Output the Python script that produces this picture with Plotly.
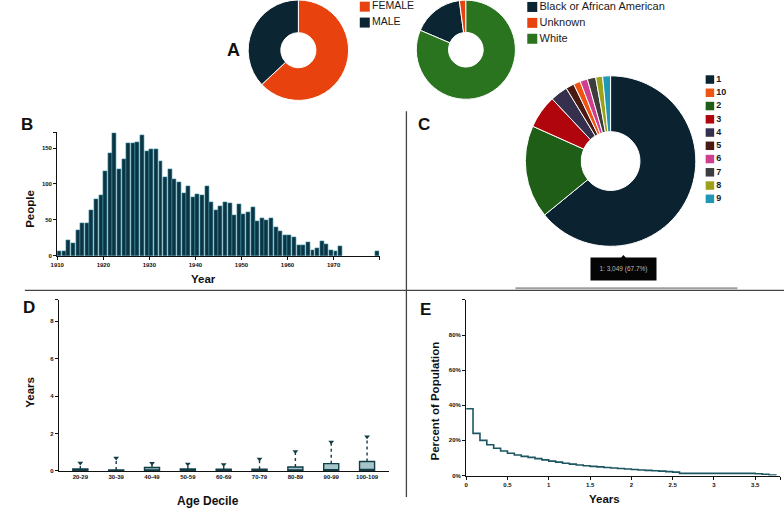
import plotly.graph_objects as go

W, H = 784, 513
FONT = "Liberation Sans, Arial, sans-serif"

# ---------------- DATA ----------------
sex_labels = ["FEMALE", "MALE"]
sex_values = [63.0, 37.0]
sex_colors = ["#e8430f", "#0c2533"]

race_labels = ["Black or African American", "Unknown", "White"]
race_values = [16.5, 2.1, 81.4]
race_colors = ["#0c2533", "#e8430f", "#2a7420"]

birth_years = list(range(1910, 1972)) + [1979]
birth_counts = [6, 6, 21, 17, 35, 45, 46, 63, 79, 85,
                118, 143, 171, 121, 134, 157, 157, 158, 168, 145,
                148, 148, 132, 110, 120, 107, 102, 87, 97, 82,
                86, 85, 97, 75, 64, 69, 74, 73, 56, 72,
                58, 61, 67, 48, 52, 50, 52, 40, 34, 28,
                29, 26, 15, 15, 19, 8, 11, 20, 16, 8,
                6, 14, 6]

# slices listed in clockwise drawing order
visit_labels = ["1", "2", "3", "4", "5", "10", "6", "7", "8", "9"]
visit_counts = [3049, 837, 300, 157, 76, 62, 67, 76, 62, 71]
visit_colors = ["#0b2230", "#1f5e16", "#b0050c", "#35304e", "#4a1912",
                "#ee5414", "#cf3f8e", "#3d3d3d", "#9ba119", "#1f97b5"]
# legend order (as in the reference)
visit_legend = ["1", "10", "2", "3", "4", "5", "6", "7", "8", "9"]

deciles = ["20-29", "30-39", "40-49", "50-59", "60-69",
           "70-79", "80-89", "90-99", "100-109"]
dec_q1 = [0.0] * 9
dec_median = [0.02, 0.01, 0.03, 0.02, 0.02, 0.02, 0.04, 0.06, 0.08]
dec_q3 = [0.10, 0.05, 0.18, 0.10, 0.09, 0.09, 0.21, 0.39, 0.50]
dec_upper = [0.42, 0.69, 0.41, 0.37, 0.34, 0.64, 1.04, 1.54, 1.82]

surv_years = [0, 0.083, 0.167, 0.25, 0.333, 0.417, 0.5, 0.583, 0.667, 0.75,
              0.833, 0.917, 1.0, 1.083, 1.167, 1.25, 1.333, 1.417, 1.5, 1.583,
              1.667, 1.75, 1.833, 1.917, 2.0, 2.083, 2.167, 2.25, 2.333, 2.417,
              2.5, 2.583, 3.5, 3.583, 3.667, 3.75]
surv_pct = [38, 24, 20, 17.5, 15.5, 14.0, 12.7, 11.7, 10.9, 10.3,
            9.6, 8.9, 8.2, 7.6, 7.0, 6.5, 6.0, 5.6, 5.2, 4.9,
            4.6, 4.3, 4.0, 3.7, 3.4, 3.1, 2.9, 2.7, 2.5, 2.2,
            1.9, 1.2, 1.0, 0.7, 0.3, 0.0]

tooltip_text = "1: 3,049 (67.7%)"


# ---------------- helpers ----------------
def fx(px):
    return px / W


def fy(py):
    return 1 - py / H


def dom_x(a, b):
    return [max(0, fx(a)), min(1, fx(b))]


def dom_y(top, bottom):
    return [max(0, fy(bottom)), min(1, fy(top))]


fig = go.Figure()

# ---------------- Panel A pies ----------------
fig.add_trace(go.Pie(labels=sex_labels, values=sex_values, hole=0.35, sort=False,
                     direction="clockwise", rotation=0, textinfo="none",
                     marker=dict(colors=sex_colors, line=dict(color="white", width=1)),
                     domain=dict(x=dom_x(243, 345), y=dom_y(0, 101)), showlegend=False))
fig.add_trace(go.Pie(labels=race_labels, values=race_values, hole=0.35, sort=False,
                     direction="clockwise",
                     rotation=360 * (race_values[2]) / sum(race_values),
                     textinfo="none",
                     marker=dict(colors=race_colors, line=dict(color="white", width=1)),
                     domain=dict(x=dom_x(413, 513), y=dom_y(0, 100)), showlegend=False))

# ---------------- Panel C pie ----------------
fig.add_trace(go.Pie(labels=visit_labels, values=visit_counts, hole=0.345, sort=False,
                     direction="clockwise", rotation=0, textinfo="none",
                     marker=dict(colors=visit_colors, line=dict(color="white", width=1)),
                     domain=dict(x=dom_x(523, 695), y=dom_y(76, 248)), showlegend=False))

# ---------------- Panel B histogram ----------------
fig.add_trace(go.Bar(x=birth_years, y=birth_counts, offset=0.04, width=0.86,
                     marker=dict(color="#0c3442", line=dict(color="#3f93a8", width=0.6)),
                     xaxis="x", yaxis="y", showlegend=False))

# ---------------- Panel D boxes ----------------
fig.add_trace(go.Box(x=deciles, q1=dec_q1, median=dec_median, q3=dec_q3,
                     lowerfence=dec_q1, upperfence=dec_q3, width=0.42,
                     fillcolor="#a6c5cb", line=dict(color="#123c46", width=1.4),
                     xaxis="x2", yaxis="y2", showlegend=False, boxpoints=False))
wx, wy = [], []
for c, lo, hi in zip(deciles, dec_q3, dec_upper):
    wx += [c, c, None]
    wy += [lo, hi, None]
fig.add_trace(go.Scatter(x=wx, y=wy, mode="lines",
                         line=dict(color="#123c46", width=1.4, dash="dot"),
                         xaxis="x2", yaxis="y2", showlegend=False))
fig.add_trace(go.Scatter(x=deciles, y=dec_upper, mode="markers",
                         marker=dict(symbol="triangle-down", size=5, color="#123c46"),
                         xaxis="x2", yaxis="y2", showlegend=False))

# ---------------- Panel E survival ----------------
fig.add_trace(go.Scatter(x=surv_years, y=surv_pct, mode="lines", line_shape="hv",
                         line=dict(color="#1d5663", width=1.6),
                         xaxis="x3", yaxis="y3", showlegend=False))


# ---------------- custom legends ----------------
def add_legend(idx, labels, colors, left_px, top_px, first_off, spacing, msize,
               fsize, weight, width_px=200):
    n = len(labels)
    hpx = first_off * 2 + spacing * (n - 1)
    ys = [i * spacing for i in range(n)]
    xa, ya = f"xaxis{idx}", f"yaxis{idx}"
    fig.add_trace(go.Scatter(x=[0] * n, y=ys, mode="markers+text", text=labels,
                             textposition="middle right", cliponaxis=False,
                             marker=dict(symbol="square", size=msize, color=colors),
                             textfont=dict(family=FONT, size=fsize, color="#1a1a1a",
                                           weight=weight),
                             xaxis=f"x{idx}", yaxis=f"y{idx}", showlegend=False,
                             hoverinfo="skip"))
    half = msize / 2
    fig.update_layout(**{
        xa: dict(domain=dom_x(left_px, left_px + width_px), range=[-half, width_px - half],
                 visible=False, fixedrange=True),
        ya: dict(domain=dom_y(top_px, top_px + hpx),
                 range=[hpx - first_off, -first_off], visible=False, fixedrange=True),
    })


add_legend(4, sex_labels, sex_colors, 356, 0, 6.7, 16, 10, 10.5, "normal", 80)
add_legend(5, race_labels, race_colors, 525, 0, 7.0, 16, 10, 11, "normal", 200)
cmap = dict(zip(visit_labels, visit_colors))
add_legend(6, visit_legend, [cmap[l] for l in visit_legend], 705, 73, 7.0, 13.33,
           8.5, 9, "bold", 60)

# ---------------- axes ----------------
tickf = dict(family=FONT, size=6, color="#111", weight="bold")
axis_common = dict(showline=True, linecolor="#111", linewidth=1.3, ticks="outside",
                   ticklen=3, tickwidth=1.2, tickcolor="#111", showgrid=False,
                   zeroline=False, tickfont=tickf, fixedrange=True)

b_x_ticks = list(range(1910, 1971, 10)) + [1980]
fig.update_layout(
    xaxis=dict(domain=dom_x(50.7, 376), range=[1910, 1980], anchor="y",
               tickvals=b_x_ticks, ticktext=[str(v) for v in b_x_ticks[:-1]] + [""],
               **axis_common),
    yaxis=dict(domain=dom_y(133, 257.3), range=[0, 172], anchor="x",
               tickvals=[0, 50, 100, 150, 172], ticktext=["0", "50", "100", "150", ""],
               **axis_common),
    xaxis2=dict(domain=dom_x(52.3, 385), range=[-0.6, 8.6], anchor="y2",
                type="category", **{**axis_common, "ticks": ""}),
    yaxis2=dict(domain=dom_y(301.7, 473.7), range=[0, 9.13], anchor="x2",
                tickvals=[0, 2, 4, 6, 8, 9.13], ticktext=["0", "2", "4", "6", "8", ""],
                **axis_common),
    xaxis3=dict(domain=dom_x(463.3, 780), range=[0, 3.8], anchor="y3",
                tickvals=[0, 0.5, 1, 1.5, 2, 2.5, 3, 3.5, 3.8],
                ticktext=["0", "0.5", "1", "1.5", "2", "2.5", "3", "3.5", ""],
                **axis_common),
    yaxis3=dict(domain=dom_y(301.7, 478.3), range=[0, 100], anchor="x3",
                tickvals=[0, 20, 40, 60, 80, 100],
                ticktext=["0%", "20%", "40%", "60%", "80%", ""],
                **axis_common),
)

# ---------------- annotations ----------------
ann = []


def text(x, y, s, size, weight="bold", angle=0, **kw):
    ann.append(dict(x=fx(x), y=fy(y), xref="paper", yref="paper", text=s,
                    showarrow=False, textangle=angle, xanchor="center", yanchor="middle",
                    font=dict(family=FONT, size=size, color="#111", weight=weight), **kw))


text(228.5, 50, "A", 18)
text(20, 125.5, "B", 17)
text(421, 125, "C", 17)
text(22.5, 309, "D", 17)
text(422, 311, "E", 17)
text(198.7, 280.7, "Year", 11.5)
text(23.3, 210, "People", 11.5, angle=-90)
text(203, 504.3, "Age Decile", 12)
text(23.3, 395, "Years", 11.5, angle=-90)
text(602.5, 502.3, "Years", 11.5)
text(431.7, 403, "Percent of Population", 11.5, angle=-90)

ann.append(dict(x=fx(622.5), y=fy(271), xref="paper", yref="paper", text=tooltip_text,
                showarrow=False, bgcolor="#050505", width=61, height=18, borderpad=2,
                xanchor="center", yanchor="middle",
                font=dict(family=FONT, size=6.5, color="#b8b8b8")))

shapes = [
    dict(type="line", xref="paper", yref="paper", x0=fx(18), x1=1, y0=fy(292), y1=fy(292),
         line=dict(color="#444", width=1.3)),
    dict(type="line", xref="paper", yref="paper", x0=fx(403), x1=fx(403), y0=fy(112),
         y1=fy(500), line=dict(color="#444", width=1.3)),
    dict(type="line", xref="paper", yref="paper", x0=fx(513), x1=fx(737), y0=fy(290),
         y1=fy(290), line=dict(color="#a0a0a0", width=2)),
    dict(type="path", xref="paper", yref="paper",
         path=f"M {fx(618.5)} {fy(260.5)} L {fx(622)} {fy(256.5)} L {fx(625.5)} {fy(260.5)} Z",
         fillcolor="#050505", line=dict(width=0)),
]

fig.update_layout(width=W, height=H, margin=dict(l=0, r=0, t=0, b=0),
                  paper_bgcolor="white", plot_bgcolor="white",
                  annotations=ann, shapes=shapes, showlegend=False,
                  font=dict(family=FONT), bargap=0)

fig.write_html("out.html", config={"displayModeBar": False},
               post_script="document.body.style.margin='0';document.body.style.overflow='hidden';")
